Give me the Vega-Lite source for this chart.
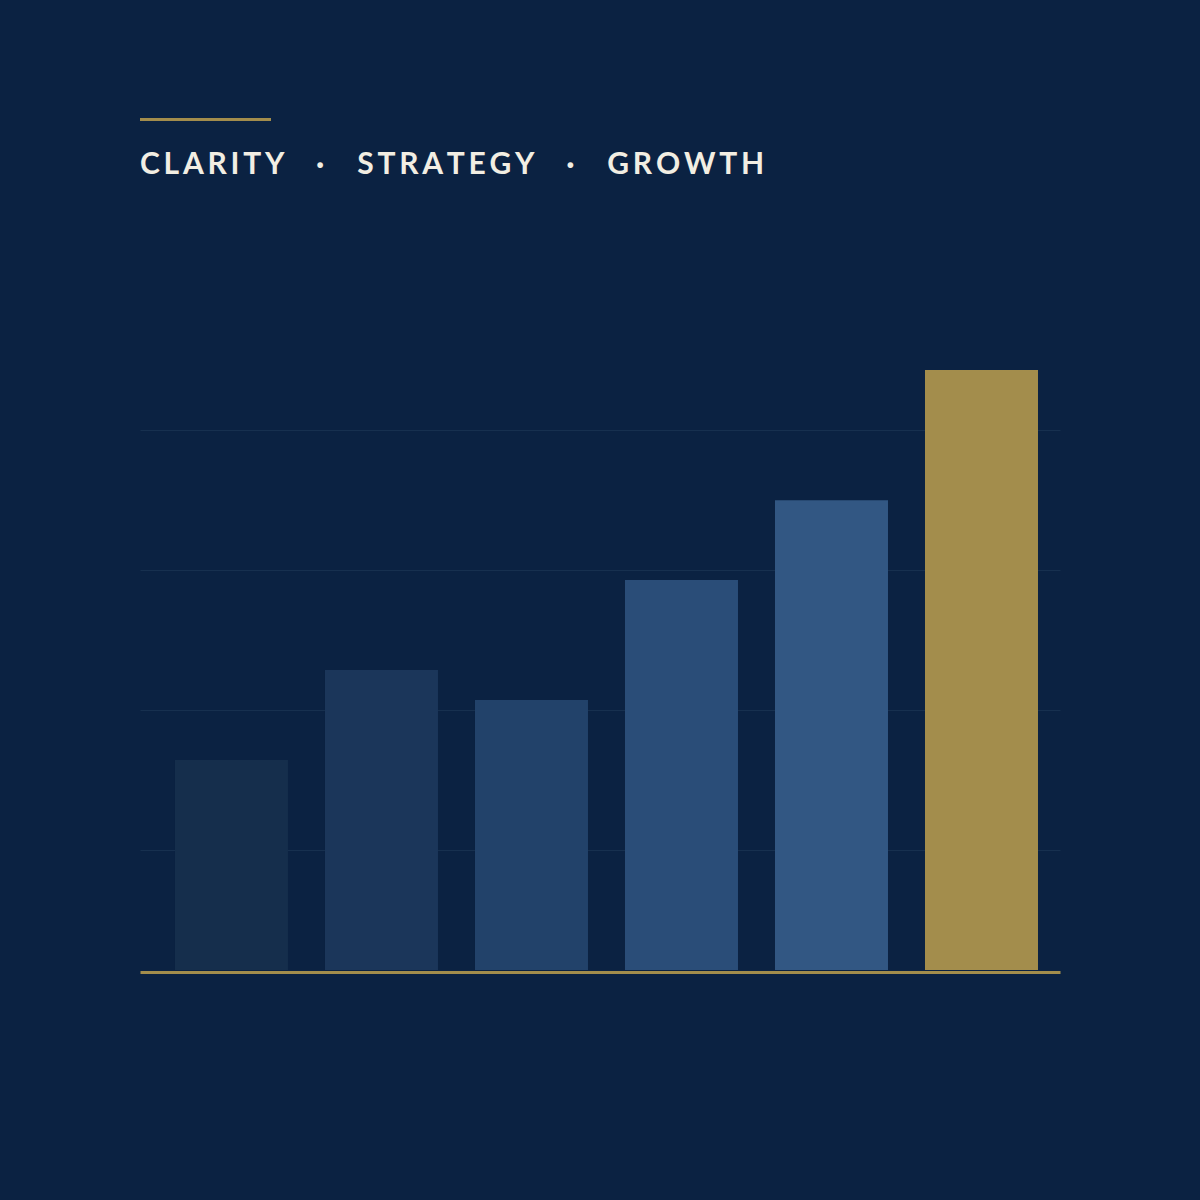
{
  "$schema": "https://vega.github.io/schema/vega-lite/v6.json",
  "autosize": {"type": "none"},
  "width": 920,
  "height": 600,
  "padding": {"left": 140, "top": 370, "right": 140, "bottom": 230},
  "background": "#0B2242",
  "config": {"view": {"stroke": null}},
  "title": {
    "text": "C\u2009L\u2009A\u2009R\u2009I\u2009T\u2009Y\u00a0\u00a0\u00a0\u00a0\u2009·\u2009\u00a0\u00a0\u00a0\u00a0S\u2009T\u2009R\u2009A\u2009T\u2009E\u2009G\u2009Y\u00a0\u00a0\u00a0\u00a0\u2009·\u2009\u00a0\u00a0\u00a0\u00a0G\u2009R\u2009O\u2009W\u2009T\u2009H",
    "anchor": "start",
    "frame": "group",
    "font": "Lato",
    "fontWeight": "bold",
    "fontSize": 30,
    "color": "#F2EEE3",
    "baseline": "alphabetic",
    "offset": -86
  },
  "data": {
    "values": [
      {"stage": "1", "value": 35},
      {"stage": "2", "value": 50},
      {"stage": "3", "value": 45},
      {"stage": "4", "value": 65},
      {"stage": "5", "value": 78.3},
      {"stage": "6", "value": 100}
    ]
  },
  "layer": [
    {
      "mark": {"type": "bar", "clip": false},
      "encoding": {
        "x": {
          "field": "stage",
          "type": "nominal",
          "sort": null,
          "scale": {"paddingInner": 0.2467, "paddingOuter": 0.19, "align": 0.614},
          "axis": {
            "title": null,
            "labels": false,
            "ticks": false,
            "domain": true,
            "domainColor": "#A38D4C",
            "domainWidth": 3,
            "offset": 2,
            "grid": false
          }
        },
        "y": {
          "field": "value",
          "type": "quantitative",
          "scale": {"domain": [0, 100], "nice": false},
          "axis": {
            "title": null,
            "labels": false,
            "ticks": false,
            "domain": false,
            "grid": true,
            "gridColor": "#17304F",
            "gridWidth": 1,
            "values": [20, 43.333, 66.667, 90]
          }
        },
        "color": {
          "field": "stage",
          "type": "nominal",
          "legend": null,
          "scale": {"range": ["#152E4C", "#1B365A", "#22426A", "#2A4D78", "#325783", "#A38D4C"]}
        }
      }
    },
    {
      "mark": {"type": "rule", "color": "#A38D4C", "strokeWidth": 3, "clip": false},
      "encoding": {
        "x": {"value": 0},
        "x2": {"value": 131},
        "y": {"value": -250.5}
      }
    }
  ]
}
